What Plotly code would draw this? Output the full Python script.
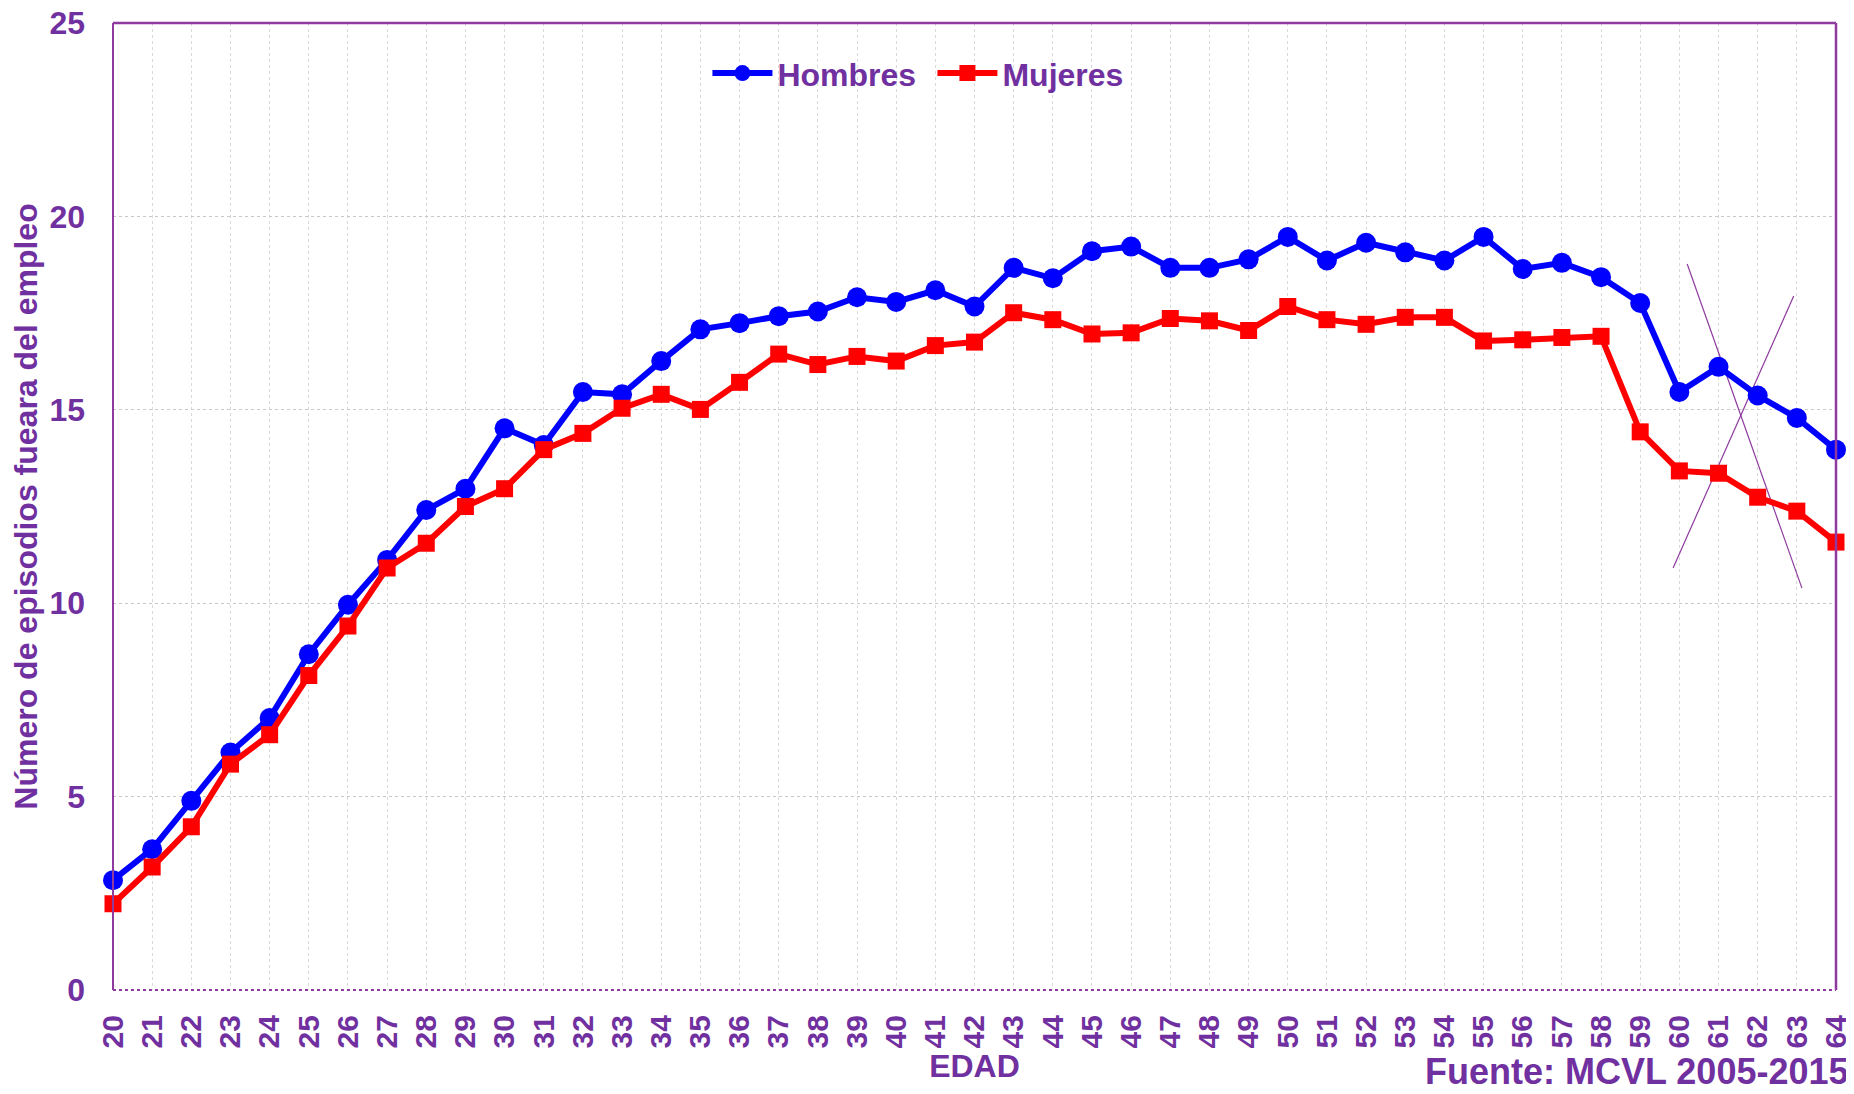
import plotly.graph_objects as go

edad = list(range(20, 65))
hombres = [2.84, 3.64, 4.89, 6.14, 7.03, 8.68, 9.96, 11.12, 12.41, 12.96,
           14.52, 14.09, 15.46, 15.40, 16.26, 17.08, 17.24, 17.42, 17.54, 17.91,
           17.79, 18.09, 17.67, 18.67, 18.40, 19.10, 19.22, 18.67, 18.67, 18.89,
           19.47, 18.86, 19.32, 19.07, 18.86, 19.47, 18.64, 18.80, 18.43, 17.76,
           15.46, 16.11, 15.37, 14.79, 13.97]
mujeres = [2.23, 3.18, 4.22, 5.84, 6.60, 8.13, 9.41, 10.91, 11.55, 12.50,
           12.96, 13.97, 14.39, 15.04, 15.40, 15.01, 15.71, 16.44, 16.17, 16.38,
           16.26, 16.66, 16.75, 17.51, 17.33, 16.96, 16.99, 17.36, 17.30, 17.05,
           17.67, 17.33, 17.21, 17.39, 17.39, 16.78, 16.81, 16.87, 16.90, 14.43,
           13.42, 13.36, 12.74, 12.38, 11.58]
y_ticks = [0, 5, 10, 15, 20, 25]
cross1_x = [60.20, 63.13]
cross1_y = [18.77, 10.39]
cross2_x = [59.84, 62.92]
cross2_y = [10.91, 17.94]

PURPLE = "#7030A0"
FONT = "Liberation Sans, Arial, sans-serif"

fig = go.Figure()
fig.add_trace(go.Scatter(x=cross1_x, y=cross1_y, mode="lines", showlegend=False,
                         line=dict(color="#8E3A9E", width=1.2), hoverinfo="skip"))
fig.add_trace(go.Scatter(x=cross2_x, y=cross2_y, mode="lines", showlegend=False,
                         line=dict(color="#8E3A9E", width=1.2), hoverinfo="skip"))
fig.add_trace(go.Scatter(x=edad, y=hombres, name="Hombres", mode="lines+markers",
                         line=dict(color="#0000FF", width=6),
                         marker=dict(symbol="circle", size=20, color="#0000FF"),
                         cliponaxis=False))
fig.add_trace(go.Scatter(x=edad, y=mujeres, name="Mujeres", mode="lines+markers",
                         line=dict(color="#FF0000", width=6),
                         marker=dict(symbol="square", size=17, color="#FF0000"),
                         cliponaxis=False))

# page has an 8px body margin, so the figure is 8px smaller than the window
fig.update_layout(
    width=1846, height=1086,
    margin=dict(l=105, r=18, t=15, b=104),
    plot_bgcolor="white", paper_bgcolor="white",
    font=dict(family=FONT, color=PURPLE),
    legend=dict(orientation="h", x=0.345, y=0.948, xanchor="left", yanchor="middle",
                font=dict(family=FONT, size=32, color=PURPLE, weight="bold"),
                bgcolor="rgba(0,0,0,0)", itemwidth=60, entrywidth=150,
                entrywidthmode="pixels"),
    xaxis=dict(range=[20, 64], tickmode="linear", tick0=20, dtick=1, automargin=False,
               tickangle=-90, showgrid=True, gridcolor="#d9d9d9", griddash="dot",
               gridwidth=1, zeroline=False, showline=False, ticks="",
               ticklabelstandoff=18, ticklabeloverflow="allow",
               tickfont=dict(family=FONT, size=30, color=PURPLE, weight="bold"),
               title=dict(text="EDAD", standoff=2,
                          font=dict(family=FONT, size=32, color=PURPLE, weight="bold"))),
    yaxis=dict(range=[0, 25], tickvals=y_ticks, showgrid=True, gridcolor="#c8c8c8",
               automargin=False, ticklabeloverflow="allow",
               griddash="dot", gridwidth=1, zeroline=False, showline=False, ticks="",
               ticklabelstandoff=27,
               tickfont=dict(family=FONT, size=32, color=PURPLE, weight="bold"),
               title=dict(text="Número de episodios fueara del empleo", standoff=8,
                          font=dict(family=FONT, size=32, color=PURPLE, weight="bold"))),
    shapes=[
        dict(type="line", xref="paper", yref="paper", x0=0, x1=1, y0=1, y1=1,
             line=dict(color="#8E3A9E", width=2.5)),
        dict(type="line", xref="paper", yref="paper", x0=0, x1=0, y0=0, y1=1,
             line=dict(color="#8E3A9E", width=2)),
        dict(type="line", xref="paper", yref="paper", x0=1, x1=1, y0=0, y1=1,
             line=dict(color="#8E3A9E", width=2.5)),
        dict(type="line", xref="paper", yref="paper", x0=0, x1=1, y0=0, y1=0,
             line=dict(color="#8E3A9E", width=2, dash="dot")),
    ],
    annotations=[
        dict(text="Fuente: MCVL 2005-2015", xref="paper", yref="paper",
             x=1.0087, y=-0.1075, xanchor="right", yanchor="bottom", showarrow=False,
             font=dict(family=FONT, size=36, color=PURPLE, weight="bold")),
    ],
)

fig.write_html("out.html")
